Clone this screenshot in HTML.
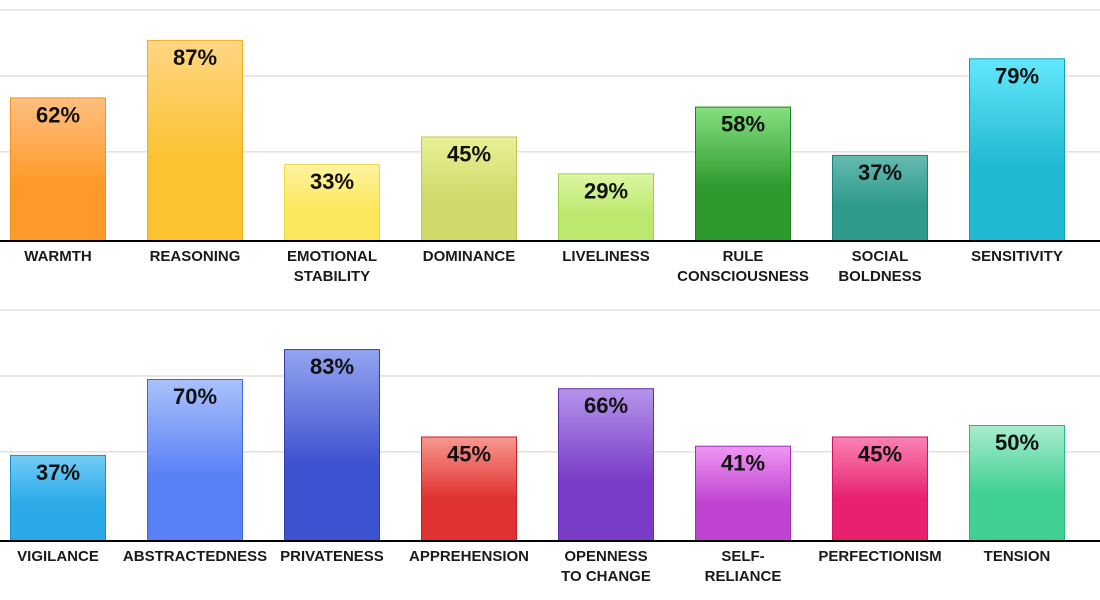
<!DOCTYPE html>
<html><head><meta charset="utf-8">
<style>
html,body{margin:0;padding:0;background:#fff;width:1100px;height:600px;overflow:hidden}
svg text{font-family:"Liberation Sans",sans-serif;font-weight:bold}
</style></head>
<body>
<svg id="chart" width="1100" height="600" xmlns="http://www.w3.org/2000/svg">
<defs id="defs"></defs>
</svg>
<script>
const topCategories = [["WARMTH"],["REASONING"],["EMOTIONAL","STABILITY"],["DOMINANCE"],["LIVELINESS"],["RULE","CONSCIOUSNESS"],["SOCIAL","BOLDNESS"],["SENSITIVITY"]];
const topValues = [62,87,33,45,29,58,37,79];
const bottomCategories = [["VIGILANCE"],["ABSTRACTEDNESS"],["PRIVATENESS"],["APPREHENSION"],["OPENNESS","TO CHANGE"],["SELF-","RELIANCE"],["PERFECTIONISM"],["TENSION"]];
const bottomValues = [37,70,83,45,66,41,45,50];
const gridValues = [38.3,71.3,100];
const topColors = [["#ffbf80","#ff9a2a","#f5911e"],["#ffd684","#fcc230","#f0b020"],["#fff3a0","#fde75c","#f0d840"],["#e8f195","#d0da6a","#bcc850"],["#dcf7a4","#bce86e","#a0d050"],["#84e080","#2e9a2e","#1e801e"],["#66bab0","#2d9a8c","#1e8070"],["#62e8fb","#20b8d2","#10a0b8"]];
const bottomColors = [["#72ccf6","#2aa8e8","#1890d0"],["#aac2fb","#5a80f6","#4066e0"],["#94a4f0","#3d52d0","#3040a0"],["#f8988e","#e03232","#c82020"],["#b494ea","#7a3cc8","#6030a8"],["#ee96f2","#c044d2","#a030b8"],["#fa82b4","#e82070","#d01060"],["#a8ecce","#40d092","#28b878"]];

const svg = document.getElementById('chart');
const defs = document.getElementById('defs');
const NS = 'http://www.w3.org/2000/svg';
const X0 = 10, STEP = 137, BW = 96, PXPER = 2.3, W = 1100;
function xPos(i){return X0 + i*STEP;}
function yPos(base, v){return base - v*PXPER;}

function mk(tag, attrs){const e=document.createElementNS(NS,tag);for(const k in attrs)e.setAttribute(k,attrs[k]);return e;}

function drawPanel(base, cats, vals, cols, prefix){
  gridValues.forEach((g)=>{
    const l = mk('line',{x1:0,x2:W,y1:yPos(base,g),y2:yPos(base,g),stroke:'#d0d0d0','stroke-width':1});
    
    
    svg.appendChild(l);
  });
  vals.forEach((v,i)=>{
    const gid = prefix+'g'+i;
    const gr = mk('linearGradient',{id:gid,x1:0,y1:0,x2:0,y2:1});
    gr.appendChild(mk('stop',{offset:'0','stop-color':cols[i][0]}));
    gr.appendChild(mk('stop',{offset:'0.6','stop-color':cols[i][1]}));
    gr.appendChild(mk('stop',{offset:'1','stop-color':cols[i][1]}));
    defs.appendChild(gr);
    const r = mk('rect',{x:xPos(i)+0.5,y:yPos(base,v)+0.5,width:BW-1,height:v*PXPER,fill:'url(#'+gid+')',stroke:cols[i][2],'stroke-width':1});
    
    
    svg.appendChild(r);
    const t = mk('text',{x:xPos(i)+BW/2,y:yPos(base,v)+25,'text-anchor':'middle','font-size':22,fill:'#111'});
    t.textContent = v+'%';
    
    
    svg.appendChild(t);
    cats[i].forEach((line,j)=>{
      const c = mk('text',{x:xPos(i)+BW/2,y:base+21+j*20,'text-anchor':'middle','font-size':15,fill:'#1a1a1a'});
      c.textContent = line;
      
      
      svg.appendChild(c);
    });
  });
  const ax = mk('line',{x1:0,x2:W,y1:base+1,y2:base+1,stroke:'#000','stroke-width':2});
  
  
  svg.appendChild(ax);
}
drawPanel(240, topCategories, topValues, topColors, 'top');
drawPanel(540, bottomCategories, bottomValues, bottomColors, 'bottom');
</script>
</body></html>
